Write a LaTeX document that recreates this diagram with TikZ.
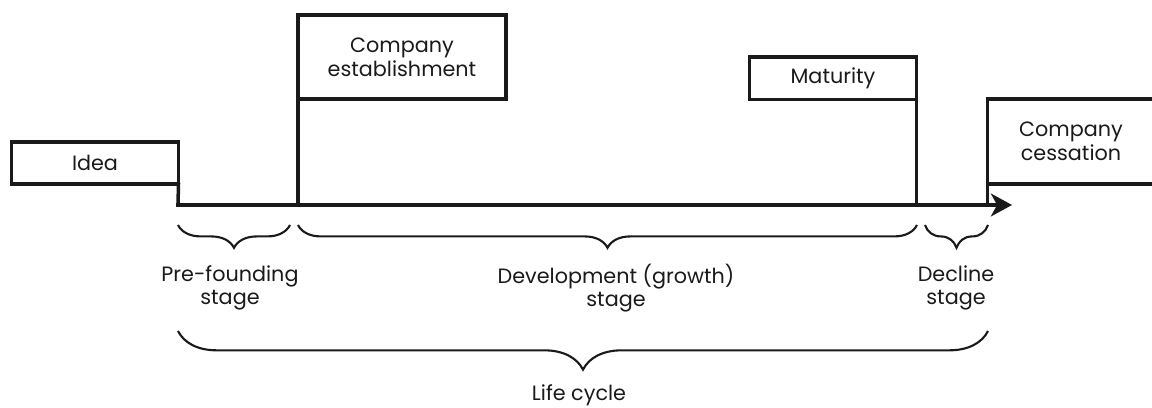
\documentclass[tikz,border=0pt]{standalone}
\usepackage{fontspec}
\setmainfont{Poppins}
\usetikzlibrary{arrows.meta, decorations.pathreplacing}
\definecolor{ink}{HTML}{1A1A1A}

\begin{document}
\begin{tikzpicture}[
    x=0.02cm, y=-0.02cm,
    every node/.style={font=\fontsize{11.8}{13.5}\selectfont, text=ink},
    event/.style={rectangle, draw=ink, line width=2pt, align=center,
                  minimum width=3.34cm, minimum height=0.85cm,
                  inner sep=0pt, outer sep=0pt},
    link/.style={draw=ink, line width=2pt, line cap=rect},
    timeline/.style={link, -{Stealth[length=12pt, width=13pt, inset=3.5pt]}},
    span/.style={draw=ink, line width=1.2pt,
                 decorate, decoration={brace, mirror, amplitude=13pt}},
    wide span/.style={span, decoration={brace, mirror, amplitude=22pt}},
    stagelabel/.style={align=center, inner sep=0pt}
  ]
    \useasboundingbox (0,0) rectangle (1152,408);

    % events above the time line
    \node[event] (idea) at (95,163) {Idea};
    \node[event, minimum width=4.16cm, minimum height=1.68cm] (found) at (402,57) {Company\\establishment};
    \node[event] (mature) at (833,78.5) {Maturity};
    \node[event, minimum height=1.7cm] (cease) at (1071,141.5) {Company\\cessation};

    % time line
    \coordinate (t0) at (178,205);
    \coordinate (tend) at (1012,205);
    \draw[link] (idea.south east) -- (t0);
    \draw[link] (found.south west) -- (found.south west |- t0);
    \draw[link] (mature.south east) -- (mature.south east |- t0);
    \draw[link] (cease.south west) -- (cease.south west |- t0);
    \draw[timeline] (t0) -- (tend);

    % stages
    \draw[span] (178,225) -- (290,225);
    \draw[span] (298,225) -- (917,225);
    \draw[span] (925,225) -- (988,225);
    \draw[wide span] (178,331) -- (988,331);

    \node[stagelabel] (pre) at (230,288) {Pre-founding\\stage};
    \node[stagelabel] (dev) at (616,288) {Development (growth)\\stage};
    \node[stagelabel] (dec) at (956,288) {Decline\\stage};
    \node[stagelabel] (life) at (579,395) {Life cycle};
  \end{tikzpicture}
\end{document}
